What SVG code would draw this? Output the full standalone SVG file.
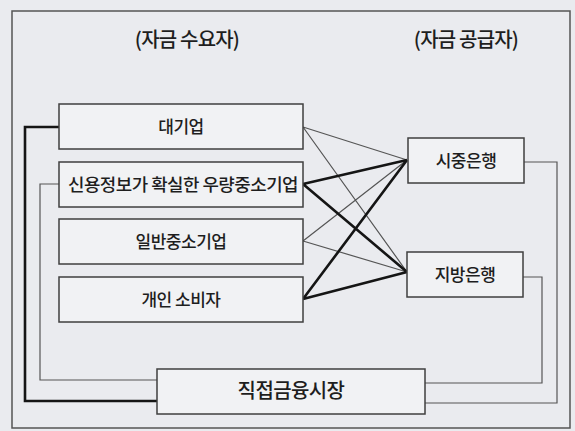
<svg xmlns="http://www.w3.org/2000/svg" width="575" height="431" viewBox="0 0 575 431">
<style>
.box{fill:#f1f2f4;stroke:#3f3f3f;stroke-width:1.5}
.t{font-family:"Noto Sans CJK KR","Noto Sans",sans-serif;fill:#1e1e1e;text-anchor:middle;font-weight:500}
.lbl{font-size:17px;letter-spacing:-0.5px}
.ttl{font-size:20px;letter-spacing:-0.8px}
.thin{fill:none;stroke:#555;stroke-width:1.2}
.thick{fill:none;stroke:#151515;stroke-width:2.6}
</style>
<rect x="0" y="0" width="575" height="431" fill="#eaebef"/>
<rect x="12" y="11" width="558" height="417" fill="#eaebef" stroke="#555" stroke-width="1.5"/>
<text class="t ttl" x="187" y="47">(자금 수요자)</text>
<text class="t ttl" x="466" y="47">(자금 공급자)</text>
<g id="connectors">
<path class="thick" d="M59,127 H25 V401 H157"/>
<path class="thin" d="M59,184 H40 V380 H157"/>
<path class="thin" d="M524,162 H557 V403 H425"/>
<path class="thin" d="M523,277 H542 V383 H425"/>
<path class="thin" d="M303,127 L407,160 M303,127 L407,272 M303,241 L407,160 M303,241 L407,272"/>
<path class="thick" d="M303,184 L407,160 M303,184 L407,272 M303,299 L407,160 M303,299 L407,272"/>
</g>
<g id="n1"><rect class="box" x="59" y="104" width="244" height="45"/><text class="t lbl" x="181" y="133">대기업</text></g>
<g id="n2"><rect class="box" x="59" y="162" width="244" height="45"/><text class="t lbl" x="183" y="191" textLength="230" lengthAdjust="spacingAndGlyphs">신용정보가 확실한 우량중소기업</text></g>
<g id="n3"><rect class="box" x="59" y="219" width="244" height="45"/><text class="t lbl" x="181" y="248">일반중소기업</text></g>
<g id="n4"><rect class="box" x="59" y="277" width="244" height="45"/><text class="t lbl" x="181" y="306">개인 소비자</text></g>
<g id="n5"><rect class="box" x="408" y="138" width="116" height="45"/><text class="t lbl" x="466" y="167">시중은행</text></g>
<g id="n6"><rect class="box" x="407" y="252" width="116" height="45"/><text class="t lbl" x="465" y="281">지방은행</text></g>
<g id="n7"><rect class="box" x="157" y="369" width="268" height="45"/><text class="t" x="291" y="398" style="font-size:20px;letter-spacing:-0.6px">직접금융시장</text></g>
</svg>
